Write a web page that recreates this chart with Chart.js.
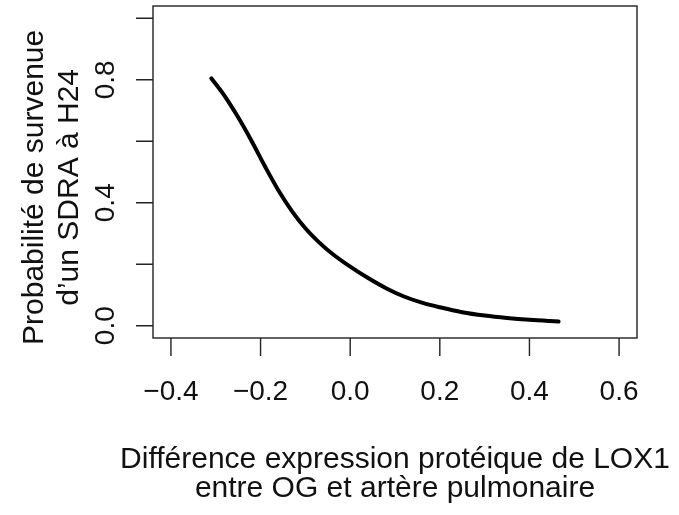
<!DOCTYPE html>
<html><head><meta charset="utf-8">
<script src="https://cdn.jsdelivr.net/npm/chart.js@4.4.1/dist/chart.umd.min.js"></script>
<style>html,body{margin:0;padding:0;background:#fff}#wrap{width:679px;height:515px}</style>
</head><body><div id="wrap"><canvas id="c" width="679" height="515"></canvas></div>
<script>
const xValues = [-0.31, -0.28, -0.25, -0.22, -0.19, -0.16, -0.13, -0.10, -0.07, -0.04, 0.0, 0.04, 0.08, 0.12, 0.16, 0.20, 0.25, 0.30, 0.35, 0.40, 0.465];
const yValues = [0.805, 0.747, 0.678, 0.601, 0.518, 0.440, 0.373, 0.317, 0.272, 0.234, 0.192, 0.155, 0.122, 0.095, 0.075, 0.060, 0.044, 0.033, 0.025, 0.019, 0.0135];
const xTicks = [-0.4, -0.2, 0.0, 0.2, 0.4, 0.6];
const xTickLabels = ["\u22120.4", "\u22120.2", "0.0", "0.2", "0.4", "0.6"];
const yTicks = [0.0, 0.2, 0.4, 0.6, 0.8, 1.0];
const yLabelTicks = [0.0, 0.4, 0.8];
const yTickLabels = ["0.0", "0.4", "0.8"];
const xTitle = ["Différence expression protéique de LOX1", "entre OG et artère pulmonaire"];
const yTitle = ["Probabilité de survenue", "d\u2019un SDRA à H24"];

const FONT = '"Liberation Sans", Arial, sans-serif';

const rAxes = {
  id: 'rAxes',
  afterDraw(chart) {
    const ctx = chart.ctx, a = chart.chartArea;
    const xs = chart.scales.x, ys = chart.scales.y;
    ctx.save();
    ctx.strokeStyle = '#222';
    ctx.lineWidth = 1.4;
    ctx.strokeRect(a.left, a.top, a.right - a.left, a.bottom - a.top);
    ctx.beginPath();
    yTicks.forEach(v => { const p = ys.getPixelForValue(v); ctx.moveTo(a.left - 17, p); ctx.lineTo(a.left, p); });
    xTicks.forEach(v => { const p = xs.getPixelForValue(v); ctx.moveTo(p, a.bottom); ctx.lineTo(p, a.bottom + 18); });
    ctx.stroke();
    ctx.fillStyle = '#111';
    ctx.font = '28px ' + FONT;
    ctx.textAlign = 'center';
    ctx.textBaseline = 'alphabetic';
    xTicks.forEach((v, i) => ctx.fillText(xTickLabels[i], xs.getPixelForValue(v), 400));
    yLabelTicks.forEach((v, i) => {
      ctx.save();
      ctx.translate(114, ys.getPixelForValue(v));
      ctx.rotate(-Math.PI / 2);
      ctx.fillText(yTickLabels[i], 0, 0);
      ctx.restore();
    });
    ctx.font = '30px ' + FONT;
    const cx = (a.left + a.right) / 2;
    ctx.fillText(xTitle[0], cx, 468);
    ctx.fillText(xTitle[1], cx, 497);
    const cy = ys.getPixelForValue(0.45);
    [43, 78].forEach((bx, i) => {
      ctx.save();
      ctx.translate(bx, cy);
      ctx.rotate(-Math.PI / 2);
      ctx.fillText(yTitle[i], 0, 0);
      ctx.restore();
    });
    ctx.restore();
  }
};

new Chart(document.getElementById('c'), {
  type: 'scatter',
  data: {
    datasets: [{
      data: xValues.map((x, i) => ({ x: x, y: yValues[i] })),
      showLine: true,
      borderColor: '#000',
      borderWidth: 4,
      borderCapStyle: 'round',
      borderJoinStyle: 'round',
      pointRadius: 0,
      pointHoverRadius: 0,
      cubicInterpolationMode: 'monotone',
      fill: false
    }]
  },
  options: {
    responsive: false,
    animation: false,
    events: [],
    layout: { padding: { left: 153, top: 6, right: 42, bottom: 177 } },
    plugins: { legend: { display: false }, tooltip: { enabled: false } },
    scales: {
      x: { type: 'linear', min: -0.44, max: 0.64, display: false },
      y: { type: 'linear', min: -0.04, max: 1.04, display: false }
    }
  },
  plugins: [rAxes]
});
</script></body></html>
